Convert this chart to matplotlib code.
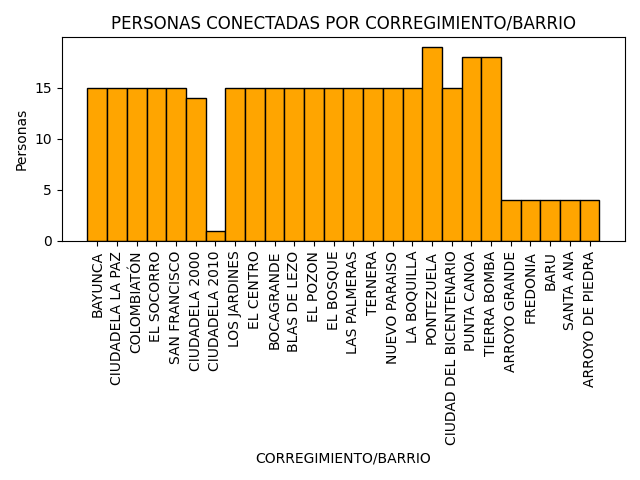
import matplotlib
matplotlib.use('Agg')
import matplotlib.pyplot as plt

barrios = ['BAYUNCA', 'CIUDADELA LA PAZ', 'COLOMBIATÓN', 'EL SOCORRO', 'SAN FRANCISCO',
           'CIUDADELA 2000', 'CIUDADELA 2010', 'LOS JARDINES', 'EL CENTRO', 'BOCAGRANDE',
           'BLAS DE LEZO', 'EL POZON', 'EL BOSQUE', 'LAS PALMERAS', 'TERNERA',
           'NUEVO PARAISO', 'LA BOQUILLA', 'PONTEZUELA', 'CIUDAD DEL BICENTENARIO',
           'PUNTA CANOA', 'TIERRA BOMBA', 'ARROYO GRANDE', 'FREDONIA', 'BARU',
           'SANTA ANA', 'ARROYO DE PIEDRA']
personas = [15, 15, 15, 15, 15, 14, 1, 15, 15, 15, 15, 15, 15, 15, 15, 15, 15, 19, 15,
            18, 18, 4, 4, 4, 4, 4]

fig, ax = plt.subplots(figsize=(6.4, 4.8), dpi=100)
ax.bar(barrios, personas, width=1.0, color='orange', edgecolor='black')
ax.set_title('PERSONAS CONECTADAS POR CORREGIMIENTO/BARRIO')
ax.set_xlabel('CORREGIMIENTO/BARRIO')
ax.set_ylabel('Personas')
ax.set_yticks([0, 5, 10, 15])
plt.xticks(rotation=90)
plt.tight_layout()
plt.savefig('out.png')
